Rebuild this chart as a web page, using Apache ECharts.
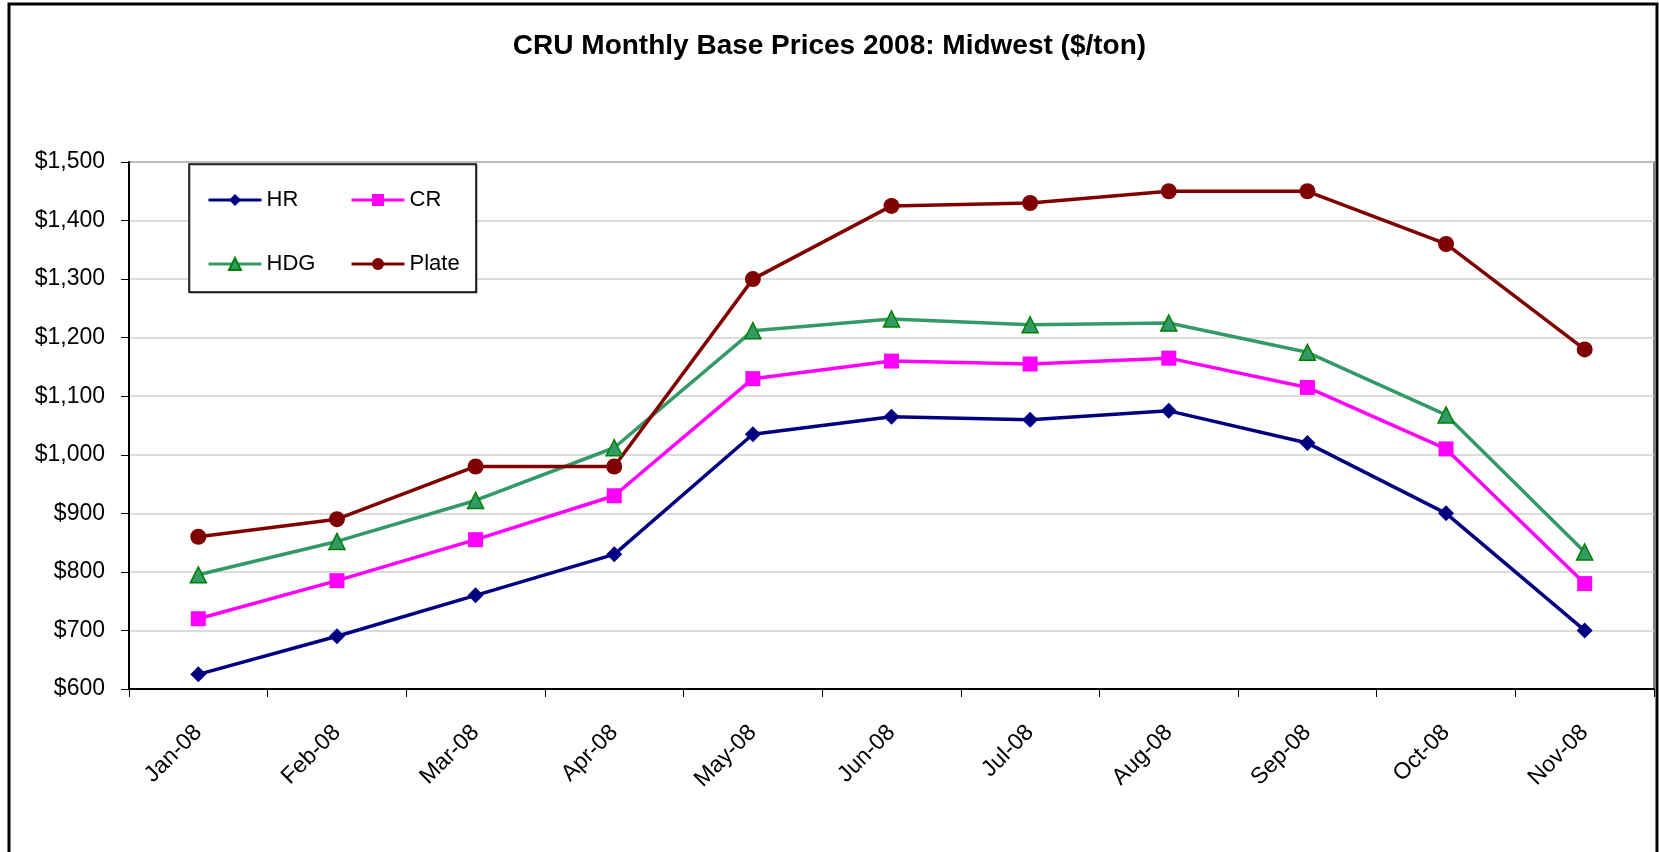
<!DOCTYPE html>
<html>
<head>
<meta charset="utf-8">
<title>CRU Monthly Base Prices 2008</title>
<script src="https://cdn.jsdelivr.net/npm/echarts@6/dist/echarts.min.js"></script>
<style>
  html, body { margin: 0; padding: 0; background: #fff; }
  #main { width: 1659px; height: 852px; }
</style>
</head>
<body>
<div id="main"></div>
<script>
// data
const months = ['Jan-08', 'Feb-08', 'Mar-08', 'Apr-08', 'May-08', 'Jun-08', 'Jul-08', 'Aug-08', 'Sep-08', 'Oct-08', 'Nov-08']
const hr = [625, 690, 760, 830, 1035, 1065, 1060, 1075, 1020, 900, 700]
const cr = [720, 785, 855, 930, 1130, 1160, 1155, 1165, 1115, 1010, 780]
const hdg = [795, 852, 922, 1012, 1212, 1232, 1222, 1225, 1175, 1068, 834]
const plate = [860, 890, 980, 980, 1300, 1425, 1430, 1450, 1450, 1360, 1180]

const yMin = 600
const yMax = 1500
const yStep = 100

const font = 'Liberation Sans, Arial, sans-serif'

const makeSeries = (name, data, color, symbol, size, fill, border) => ({
  name: name,
  type: 'line',
  data: data,
  symbol: symbol,
  symbolSize: size,
  showAllSymbol: true,
  lineStyle: { color: color, width: 3.5 },
  itemStyle: { color: fill, borderColor: border || fill, borderWidth: border ? 1.5 : 0 },
  emphasis: { disabled: true },
  z: 3
})

const legendBase = {
  orient: 'vertical',
  padding: 0,
  itemWidth: 53,
  itemHeight: 15,
  itemGap: 42,
  lineStyle: { width: 3 },
  textStyle: { fontFamily: font, fontSize: 22, color: '#000' },
  selectedMode: false,
  z: 6
}

let myChart = echarts.init(document.getElementById('main'))
let option = {
  backgroundColor: '#fff',
  animation: false,
  title: {
    text: 'CRU Monthly Base Prices 2008: Midwest ($/ton)',
    left: 'center',
    top: 27,
    textStyle: { fontFamily: font, fontSize: 28, fontWeight: 'bold', color: '#000' }
  },
  legend: [
    Object.assign({}, legendBase, { data: ['HR', 'HDG'], left: 207, top: 189 }),
    Object.assign({}, legendBase, { data: ['CR', 'Plate'], left: 350, top: 189 })
  ],
  grid: {
    left: 129,
    right: 5,
    top: 162,
    bottom: 163,
    show: true,
    borderColor: '#808080',
    borderWidth: 2
  },
  xAxis: {
    type: 'category',
    data: months,
    boundaryGap: true,
    axisLine: { lineStyle: { color: '#000', width: 2 } },
    axisTick: { show: true, length: 8, lineStyle: { color: '#000', width: 1 } },
    axisLabel: {
      rotate: 45,
      margin: 40,
      fontFamily: font,
      fontSize: 23,
      color: '#000'
    },
    splitLine: { show: false }
  },
  yAxis: {
    type: 'value',
    min: yMin,
    max: yMax,
    interval: yStep,
    axisLine: { show: true, lineStyle: { color: '#000', width: 2 } },
    axisTick: { show: true, length: 8, lineStyle: { color: '#000', width: 1 } },
    axisLabel: {
      margin: 24,
      fontFamily: font,
      fontSize: 23,
      color: '#000',
      formatter: (v) => '$' + v.toLocaleString('en-US')
    },
    splitLine: { lineStyle: { color: '#d0d0d0', width: 1.5 } }
  },
  graphic: [
    {
      // legend box
      type: 'rect',
      shape: { x: 189, y: 164, width: 287, height: 128 },
      style: { fill: '#fff', stroke: '#000', lineWidth: 1.5, shadowColor: 'rgba(0,0,0,0.35)', shadowOffsetX: 1, shadowOffsetY: 1 },
      z: 5
    },
    {
      // outer frame of the chart
      type: 'rect',
      shape: { x: 9, y: 4, width: 1648, height: 900 },
      style: { fill: 'none', stroke: '#000', lineWidth: 3 },
      z: 10
    }
  ],
  series: [
    makeSeries('HR', hr, '#000080', 'diamond', 16, '#000080'),
    makeSeries('CR', cr, '#ff00ff', 'rect', 15, '#ff00ff'),
    makeSeries('HDG', hdg, '#339966', 'triangle', 16, '#339966', '#008000'),
    makeSeries('Plate', plate, '#800000', 'circle', 16, '#800000')
  ]
}
myChart.setOption(option)
</script>
</body>
</html>
